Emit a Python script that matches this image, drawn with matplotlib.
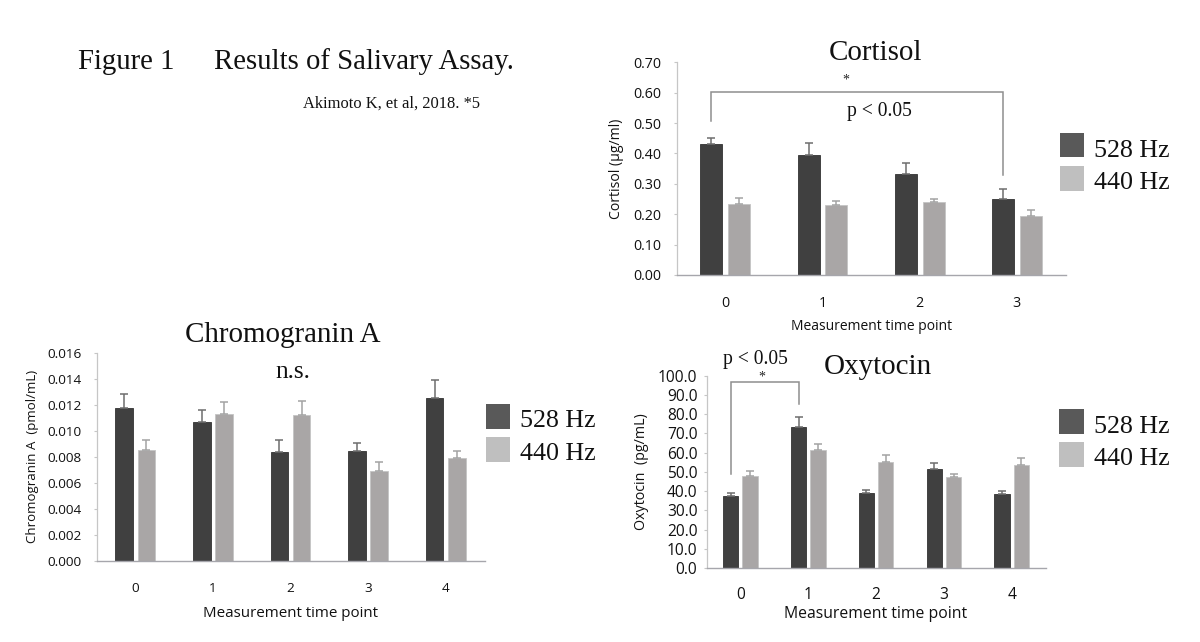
import matplotlib
matplotlib.use("Agg")
import matplotlib.pyplot as plt
import numpy as np
from matplotlib.patches import Rectangle

# ---------------- data ----------------
cortisol_points = ["0", "1", "2", "3"]
cortisol_528 = [0.430, 0.395, 0.331, 0.249]
cortisol_528_err = [0.022, 0.038, 0.036, 0.033]
cortisol_440 = [0.235, 0.229, 0.240, 0.193]
cortisol_440_err = [0.019, 0.013, 0.010, 0.020]
cortisol_yticks = [0.0, 0.1, 0.2, 0.3, 0.4, 0.5, 0.6, 0.7]

chromo_points = ["0", "1", "2", "3", "4"]
chromo_528 = [0.01177, 0.01069, 0.00834, 0.00846, 0.01251]
chromo_528_err = [0.00103, 0.00090, 0.00094, 0.00062, 0.00137]
chromo_440 = [0.00854, 0.01131, 0.01118, 0.00688, 0.00788]
chromo_440_err = [0.00072, 0.00087, 0.00108, 0.00071, 0.00053]
chromo_yticks = [0.0, 0.002, 0.004, 0.006, 0.008, 0.010, 0.012, 0.014, 0.016]

oxy_points = ["0", "1", "2", "3", "4"]
oxy_528 = [37.4, 73.2, 38.8, 51.3, 38.3]
oxy_528_err = [1.8, 5.2, 1.6, 3.1, 1.7]
oxy_440 = [47.8, 61.2, 55.3, 47.2, 53.7]
oxy_440_err = [2.5, 3.4, 3.3, 1.7, 3.3]
oxy_yticks = [0, 10, 20, 30, 40, 50, 60, 70, 80, 90, 100]

series_names = ["528 Hz", "440 Hz"]

# significance brackets: (from point, to point, top level, left foot, right foot)
cortisol_bracket = (0, 3, 0.601, 0.508, 0.329)
oxy_bracket = (0, 1, 96.6, 48.9, 85.3)

# ---------------- style ----------------
W, H = 1200, 642
SERIF = ["Liberation Serif", "DejaVu Serif"]
SANS = ["Open Sans", "DejaVu Sans"]
DARK = "#404040"
LIGHT = "#a9a6a6"
LEG_DARK = "#595959"
LEG_LIGHT = "#bfbfbf"
plt.rcParams["font.family"] = SANS

fig = plt.figure(figsize=(W / 100, H / 100), dpi=100)
fig.patch.set_facecolor("white")


def fx(x):
    return x / W


def fy(y):
    return 1 - y / H


def make_axes(left, right, top, bottom):
    return fig.add_axes([fx(left), fy(bottom), (right - left) / W, (bottom - top) / H])


BW = 0.225
OFF = 0.143


def draw_panel(ax, points, v1, e1, v2, e2, yticks, fmt, ylabel,
               xlabel_off, ytick_pad, xtick_pad, axh,
               tick_size, xlabel_size, ylabel_size):
    x = np.arange(len(points))
    ax.bar(x - OFF, v1, BW, color=DARK, edgecolor="#333333", linewidth=0.6, zorder=2)
    ax.bar(x + OFF, v2, BW, color=LIGHT, edgecolor="#c4c4c4", linewidth=0.6, zorder=2)
    z = np.zeros(len(points))
    ax.errorbar(x - OFF, v1, yerr=[z, e1], fmt="none", ecolor="#6e6e6e",
                elinewidth=1.1, capsize=3.2, capthick=1.1, zorder=3)
    ax.errorbar(x + OFF, v2, yerr=[z, e2], fmt="none", ecolor="#a3a3a3",
                elinewidth=1.1, capsize=3.2, capthick=1.1, zorder=3)
    ax.set_xlim(-0.5, len(points) - 0.5)
    ax.set_ylim(yticks[0], yticks[-1])
    ax.set_xticks(x)
    ax.set_xticklabels(points)
    ax.set_yticks(yticks)
    ax.set_yticklabels([fmt.format(t) for t in yticks])
    for s in ("top", "right"):
        ax.spines[s].set_visible(False)
    ax.spines["left"].set_color("#c6c6c6")
    ax.spines["bottom"].set_color("#a6a6ac")
    ax.spines["left"].set_linewidth(0.9)
    ax.spines["bottom"].set_linewidth(1.0)
    ax.tick_params(axis="x", length=0, pad=xtick_pad, labelsize=tick_size, colors="#111111")
    ax.tick_params(axis="y", length=2.2, width=0.8, color="#c6c6c6",
                   pad=ytick_pad, labelsize=tick_size, labelcolor="#111111")
    ax.set_xlabel("Measurement time point", fontsize=xlabel_size, color="#111111", va="center")
    ax.xaxis.set_label_coords(0.5, -xlabel_off / axh)
    ax.set_ylabel(ylabel, fontsize=ylabel_size, color="#111111", va="center")
    return x


def bracket(ax, b, color="#8e8e8e"):
    i0, i1, top, f0, f1 = b
    xa, xb = i0 - OFF, i1 - OFF
    ax.plot([xa, xa, xb, xb], [f0, top, top, f1], color=color, lw=1.1,
            clip_on=False, zorder=4, solid_joinstyle="miter")


def legend(x0, y_tops, text_x, baselines, size=18.7):
    for yt, col in zip(y_tops, [LEG_DARK, LEG_LIGHT]):
        fig.patches.append(Rectangle((fx(x0), fy(yt + 24.5)), 24.3 / W, 24.5 / H,
                                     transform=fig.transFigure, facecolor=col,
                                     edgecolor="none"))
    for bl, name in zip(baselines, series_names):
        fig.text(fx(text_x), fy(bl), name, family=SERIF, fontsize=size,
                 ha="left", va="baseline", color="#111111")


# ---------------- Cortisol ----------------
axc = make_axes(676.7, 1065.5, 62.3, 275.0)
draw_panel(axc, cortisol_points, cortisol_528, cortisol_528_err,
           cortisol_440, cortisol_440_err, cortisol_yticks, "{:.2f}",
           "Cortisol (\u03bcg/ml)", 51.7, 8.6, 15.2, 212.7,
           10.3, 10.0, 10.1)
axc.yaxis.set_label_coords(-60 / 388.8, 0.5)
bracket(axc, cortisol_bracket)
fig.text(fx(876), fy(60.5), "Cortisol", family=SERIF, fontsize=20.9,
         ha="center", va="baseline", color="#111111")
fig.text(fx(846), fy(80), "*", family=SERIF, fontsize=10, ha="center",
         va="center", color="#222222")
fig.text(fx(879), fy(116), "p < 0.05", family=SERIF, fontsize=14.1,
         ha="center", va="baseline", color="#111111")
legend(1060, [132.7, 166.2], 1094, [156.8, 189.2])

# ---------------- Chromogranin A ----------------
axg = make_axes(96.5, 484.5, 352.7, 560.7)
draw_panel(axg, chromo_points, chromo_528, chromo_528_err,
           chromo_440, chromo_440_err, chromo_yticks, "{:.3f}",
           "Chromogranin A  (pmol/mL)", 52.6, 8.6, 15.6, 208.0,
           9.7, 10.9, 9.5)
axg.yaxis.set_label_coords(-64.5 / 388.0, 0.5)
fig.text(fx(283), fy(341.7), "Chromogranin A", family=SERIF, fontsize=20.9,
         ha="center", va="baseline", color="#111111")
fig.text(fx(292.7), fy(378.3), "n.s.", family=SERIF, fontsize=18.2,
         ha="center", va="baseline", color="#111111")
legend(485.7, [404.0, 437.0], 520, [427.0, 459.5])

# ---------------- Oxytocin ----------------
axo = make_axes(706.5, 1045.6, 375.7, 568.0)
draw_panel(axo, oxy_points, oxy_528, oxy_528_err,
           oxy_440, oxy_440_err, oxy_yticks, "{:.1f}",
           "Oxytocin  (pg/mL)", 46, 4.3, 13.4, 192.3,
           11.2, 11.3, 10.3)
axo.yaxis.set_label_coords(-65 / 339.1, 0.5)
bracket(axo, oxy_bracket)
fig.text(fx(878), fy(374.3), "Oxytocin", family=SERIF, fontsize=20.9,
         ha="center", va="baseline", color="#111111")
fig.text(fx(761.7), fy(376.7), "*", family=SERIF, fontsize=10, ha="center",
         va="center", color="#222222")
fig.text(fx(755), fy(364), "p < 0.05", family=SERIF, fontsize=14.1,
         ha="center", va="baseline", color="#111111")
legend(1059.3, [409.3, 442.3], 1094, [432.8, 465.2])

# ---------------- header ----------------
fig.text(fx(78.3), fy(69), "Figure 1", family=SERIF, fontsize=20.7,
         ha="left", va="baseline", color="#111111")
fig.text(fx(214), fy(69), "Results of Salivary Assay.", family=SERIF,
         fontsize=20.7, ha="left", va="baseline", color="#111111")
fig.text(fx(303.3), fy(107.3), "Akimoto K, et al, 2018. *5", family=SERIF,
         fontsize=11.9, ha="left", va="baseline", color="#111111")

fig.savefig("out.png", dpi=100, facecolor="white")
